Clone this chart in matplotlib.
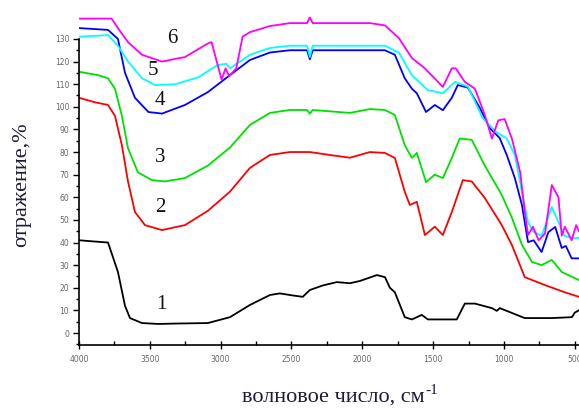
import matplotlib
matplotlib.use("Agg")
import matplotlib.pyplot as plt
from matplotlib.ticker import MultipleLocator, FixedLocator

# curve 1 (black)
w1 = [4000, 3900, 3795, 3725, 3675, 3640, 3555, 3440, 3300, 3090, 2934, 2793, 2652, 2582, 2480,
      2420, 2370, 2280, 2180, 2087, 2017, 1897, 1840, 1805, 1770, 1700, 1650, 1580, 1537, 1417,
      1333, 1276, 1205, 1085, 1050, 1029, 853, 662, 520, 500, 471]
r1 = [41, 40.5, 40, 27, 12, 6.6, 4.4, 4, 4.2, 4.4, 7, 12.4, 16.8, 17.5, 16.5,
      16, 19, 21, 22.5, 22, 23, 25.6, 24.7, 20, 18, 7, 6, 8, 6, 6,
      6, 13, 13, 11, 9.8, 11, 6.6, 6.6, 7, 9, 10]

# curve 2 (red)
w2 = [4000, 3887, 3795, 3746, 3697, 3654, 3605, 3534, 3414, 3252, 3090, 2934, 2793, 2652, 2511,
      2370, 2229, 2087, 1946, 1840, 1770, 1700, 1664, 1615, 1558, 1488, 1431, 1368, 1290, 1227,
      1135, 1015, 944, 853, 711, 570, 471]
r2 = [104, 102, 100.8, 96, 83, 67, 53.5, 47.7, 45.5, 47.7, 54, 62.5, 73, 78.7, 80,
      80, 78.7, 77.5, 80, 79.6, 77.4, 62.4, 56.6, 58, 43.3, 47, 43.3, 53.5, 67.6, 67,
      59.7, 47.7, 38.9, 24.7, 21.2, 18, 16]

# curve 3 (green)
w3 = [4000, 3866, 3795, 3746, 3697, 3654, 3584, 3485, 3393, 3252, 3090, 2934, 2793, 2652, 2511,
      2390, 2370, 2350, 2229, 2087, 1946, 1840, 1770, 1700, 1650, 1615, 1550, 1488, 1431, 1368,
      1312, 1227, 1135, 1015, 944, 873, 802, 734, 662, 592, 471]
r3 = [115.5, 114, 112.6, 108, 96, 81.7, 71, 67.6, 67, 68.5, 74, 82, 92, 97.3, 98.6,
      98.6, 97, 98.6, 98, 97.3, 99, 98.6, 96.4, 83, 77.4, 79.6, 66.7, 70, 68.5, 77.4,
      86, 85.4, 74, 61, 51, 39, 31.4, 30, 32.3, 27, 23.4]

# curve 4 (blue)
w4 = [4000, 3795, 3725, 3675, 3605, 3510, 3414, 3252, 3090, 2934, 2793, 2652, 2511, 2390, 2370,
      2350, 2229, 2087, 1946, 1840, 1770, 1700, 1650, 1615, 1550, 1488, 1431, 1368, 1326, 1255,
      1170, 1100, 1030, 980, 923, 873, 830, 790, 734, 686, 638, 592, 563, 522, 471]
r4 = [134.8, 134, 130, 115, 104, 97.7, 97, 100.8, 106.5, 114, 120.7, 124, 125, 125, 121,
      125, 125, 125, 125, 125, 123, 112.6, 108, 106, 97.7, 100.8, 98.5, 104, 109.6, 108.5,
      99.5, 90.6, 86.2, 78.7, 68.5, 56.6, 40.2, 41, 35.8, 44.6, 46.9, 37.6, 38.5, 33, 33]

# curve 5 (cyan)
w5 = [4000, 3795, 3725, 3654, 3555, 3460, 3320, 3160, 3020, 2960, 2934, 2793, 2652, 2511, 2390,
      2370, 2350, 2229, 2087, 1946, 1840, 1742, 1650, 1537, 1431, 1346, 1255, 1150, 1057, 980,
      923, 873, 830, 790, 734, 662, 615, 573, 522, 471]
r5 = [131, 131.7, 127, 120, 112.6, 109.6, 110, 113, 118.5, 119, 117, 123, 126, 127, 127,
      122, 127, 127, 127, 127, 127, 124, 114, 107.4, 106, 111, 109, 95, 89, 86,
      78.7, 62.4, 49, 44.6, 43, 55.7, 49, 43, 42, 42]

# curve 6 (magenta)
w6 = [4000, 3770, 3725, 3654, 3555, 3414, 3252, 3090, 3064, 2993, 2965, 2940, 2890, 2845, 2793,
      2652, 2511, 2390, 2370, 2350, 2229, 2087, 1946, 1840, 1742, 1650, 1558, 1431, 1368, 1340,
      1276, 1205, 1135, 1085, 1040, 995, 944, 885, 853, 830, 795, 755, 710, 662, 615, 592,
      570, 522, 490, 471]
r6 = [139, 139, 134.8, 128.6, 123, 120, 122, 128, 128.6, 112, 117, 113.5, 117, 131, 133,
      135.7, 137, 137, 139.5, 137, 137, 137, 137, 136, 130.4, 121.6, 117, 108.8, 117, 117,
      111, 108, 96.4, 86, 94, 94.6, 86, 71, 53.5, 43.3, 47, 41, 44, 65.4, 60, 43,
      47, 41, 47.7, 45]

curves = [(w1, r1, "black"), (w2, r2, "#ff0000"), (w3, r3, "#00e000"),
          (w4, r4, "#0000ff"), (w5, r5, "#00ffff"), (w6, r6, "#ff00ff")]

# curve number labels: (wavenumber, value, text)
labels = [(3340, 130.4, "6"), (3478, 116, "5"), (3428, 103, "4"),
          (3428, 77.4, "3"), (3428, 55.3, "2"), (3420, 12.4, "1")]

fig = plt.figure(figsize=(5.79, 4.11), dpi=100)
ax = fig.add_axes([0.1364, 0.1606, 0.8636, 0.8107])

for w, r, c in curves:
    ax.plot(w, r, color=c, lw=1.3)

for x, y, t in labels:
    ax.text(x, y, t, fontsize=15, family="Liberation Serif", color="#111111",
            ha="center", va="center")

ax.set_xlim(4000, 470)
ax.set_ylim(-5.3, 142)

ax.spines["top"].set_visible(False)
ax.spines["right"].set_visible(False)
ax.spines["left"].set_bounds(-5.3, 130)
ax.spines["left"].set_linewidth(1.2)
ax.spines["bottom"].set_linewidth(1.2)

ax.set_xticks([4000, 3500, 3000, 2500, 2000, 1500, 1000, 500])
ax.xaxis.set_minor_locator(MultipleLocator(250))
ax.set_yticks(range(0, 131, 10))
ax.yaxis.set_minor_locator(FixedLocator(list(range(-5, 130, 10))))
ax.tick_params(axis="x", which="major", direction="inout", length=6, width=1, labelsize=5.5,
               labelcolor="#666666", pad=4)
ax.tick_params(axis="x", which="minor", direction="in", length=3, width=1)
ax.tick_params(axis="y", which="major", direction="out", length=4, width=1, labelsize=5.5,
               labelcolor="#666666", pad=3)
ax.tick_params(axis="y", which="minor", direction="out", length=2.5, width=1)

fig.text(0.038, 0.55, "отражение,%", rotation=90, fontsize=16, family="Liberation Serif",
         color="#1c1c3a", ha="center", va="center")
xl = fig.text(0.575, 0.035, "волновое число, см", fontsize=16, family="Liberation Serif",
              color="#1c1c3a", ha="center", va="center")
ax.annotate("-1", xy=(1.0, 0.8), xycoords=xl, xytext=(1, 0), textcoords="offset points",
            fontsize=11, family="Liberation Serif", color="#1c1c3a", ha="left", va="center",
            annotation_clip=False)

plt.savefig("out.png", dpi=100)
